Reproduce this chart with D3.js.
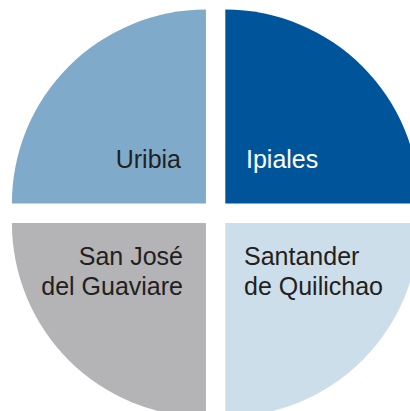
<!DOCTYPE html>
<html>
<head>
<meta charset="utf-8">
<script src="https://cdn.jsdelivr.net/npm/d3@7"></script>
<style>
  html, body { margin: 0; padding: 0; background: #fff; }
  svg { display: block; }
</style>
</head>
<body>
<div id="chart"></div>
<script>
// slices, clockwise from 12 o'clock
const cities = [["Ipiales"], ["Santander", "de Quilichao"], ["San José", "del Guaviare"], ["Uribia"]];
const shares = [25, 25, 25, 25];
const fills = ["#00559a", "#cddeeb", "#b4b4b6", "#7faaca"];
const textFills = ["#ffffff", "#231f20", "#231f20", "#231f20"];

const w = 410, h = 411;
const cx = 215.6, cy = 213.3;
const r = 194;
const gap = 13.7; // each slice pushed out from the centre

const svg = d3.select("#chart").append("svg")
    .attr("width", w)
    .attr("height", h);

const pie = d3.pie().sort(null).value(d => d);
const arc = d3.arc().innerRadius(0).outerRadius(r);

const slices = svg.append("g")
    .attr("transform", "translate(" + cx + "," + cy + ")")
  .selectAll("g")
  .data(pie(shares))
  .enter().append("g")
    .attr("transform", d => {
      const mid = (d.startAngle + d.endAngle) / 2;
      return "translate(" + (Math.sin(mid) * gap) + "," + (-Math.cos(mid) * gap) + ")";
    });

slices.append("path")
    .attr("d", arc)
    .attr("fill", (d, i) => fills[i]);

// labels sit near the inner corner of each slice
const labelPos = [
  {x: 30.4, y: -45.3, anchor: "start"},
  {x: 28.4, y: 51.7, anchor: "start"},
  {x: -32.6, y: 51.7, anchor: "end"},
  {x: -34.6, y: -45.3, anchor: "end"}
];

slices.append("text")
    .attr("font-family", "'Liberation Sans', Helvetica, Arial, sans-serif")
    .attr("font-size", 25)
    .attr("fill", (d, i) => textFills[i])
    .attr("text-anchor", (d, i) => labelPos[i].anchor)
    .each(function (d, i) {
      const mid = (d.startAngle + d.endAngle) / 2;
      const ox = Math.sin(mid) * gap, oy = -Math.cos(mid) * gap;
      d3.select(this).selectAll("tspan")
        .data(cities[i])
        .enter().append("tspan")
          .attr("x", labelPos[i].x - ox)
          .attr("y", (t, j) => labelPos[i].y - oy + j * 30)
          .text(t => t);
    });
</script>
</body>
</html>
